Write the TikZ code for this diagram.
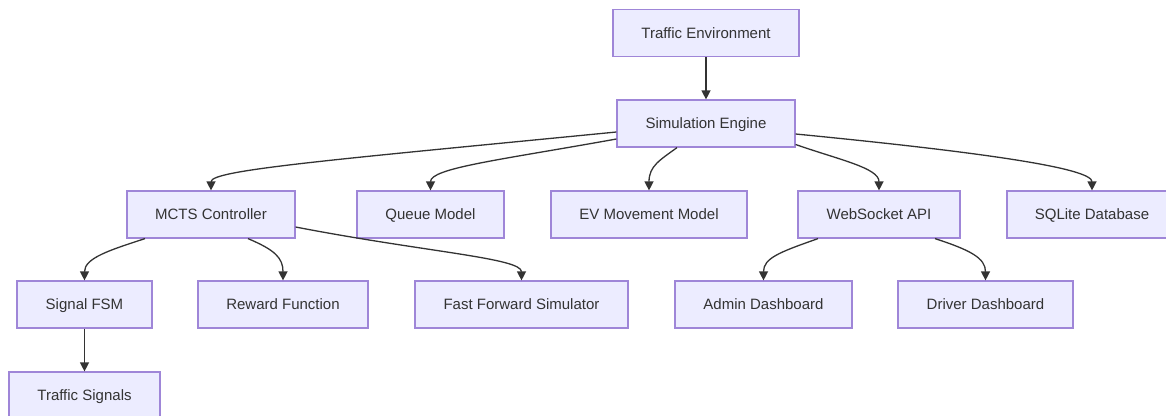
\documentclass[tikz,border=0pt]{standalone}
\usepackage{fontspec}
\setmainfont{Liberation Sans}
\usetikzlibrary{arrows.meta}
\definecolor{boxfill}{HTML}{ECECFF}
\definecolor{boxline}{HTML}{9F86D8}
\definecolor{ink}{HTML}{333333}
\tikzset{
  box/.style={draw=boxline, fill=boxfill, line width=1.2pt, minimum height=47pt, inner sep=0pt,
    text height=12pt, text depth=1.2pt,
    text=ink, font=\fontsize{15}{17}\selectfont},
  arr/.style={draw=ink, line width=1.3pt, -{Triangle[width=9pt,length=9pt]}}
}
\begin{document}
\begin{tikzpicture}[x=1pt,y=-1pt]
\useasboundingbox (0,0) rectangle (1166,415);
\clip (0,0) rectangle (1166,415);
\fill[white] (0,0) rectangle (1166,415);
% nodes
\node[box, minimum width=186pt] (te) at (706,33) {Traffic Environment};
\node[box, minimum width=178pt] (se) at (706,123.5) {Simulation Engine};
\node[box, minimum width=168pt] (mcts) at (211,214.5) {MCTS Controller};
\node[box, minimum width=147pt] (qm) at (430.5,214.5) {Queue Model};
\node[box, minimum width=196pt] (ev) at (649,214.5) {EV Movement Model};
\node[box, minimum width=162pt] (ws) at (879,214.5) {WebSocket API};
\node[box, minimum width=170pt] (db) at (1092,214.5) {SQLite Database};
\node[box, minimum width=135pt] (fsm) at (84.5,304.5) {Signal FSM};
\node[box, minimum width=170pt] (rf) at (283,304.5) {Reward Function};
\node[box, minimum width=213pt] (ff) at (521.5,304.5) {Fast Forward Simulator};
\node[box, minimum width=177pt] (ad) at (763.5,304.5) {Admin Dashboard};
\node[box, minimum width=175pt] (dd) at (985.5,304.5) {Driver Dashboard};
\node[box, minimum width=151pt] (ts) at (84.5,395.5) {Traffic Signals};
% edges
\draw[arr] (te) -- (se);
\draw[arr] ([yshift=-8.5pt]se.west) .. controls (330,160) and (211,170) .. (mcts.north);
\draw[arr] ([yshift=-15.5pt]se.west) .. controls (500,160) and (430.5,168) .. (qm.north);
\draw[arr] ([xshift=-29pt]se.south) .. controls (660,160) and (649,166) .. (ev.north);
\draw[arr] ([yshift=-21pt]se.east) .. controls (840,160) and (879,168) .. (ws.north);
\draw[arr] ([yshift=-10.5pt]se.east) .. controls (980,152) and (1092,168) .. (db.north);
\draw[arr] ([xshift=-66pt]mcts.south) .. controls (110,250) and (84.5,258) .. (fsm.north);
\draw[arr] ([xshift=37pt]mcts.south) .. controls (275,250) and (283,258) .. (rf.north);
\draw[arr] ([yshift=-12.5pt]mcts.east) .. controls (425,252) and (521.5,258) .. (ff.north);
\draw[arr] ([xshift=-61pt]ws.south) .. controls (780,252) and (763.5,258) .. (ad.north);
\draw[arr] ([xshift=56pt]ws.south) .. controls (970,250) and (985.5,258) .. (dd.north);
\draw[arr] (fsm) -- (ts);
\end{tikzpicture}
\end{document}
